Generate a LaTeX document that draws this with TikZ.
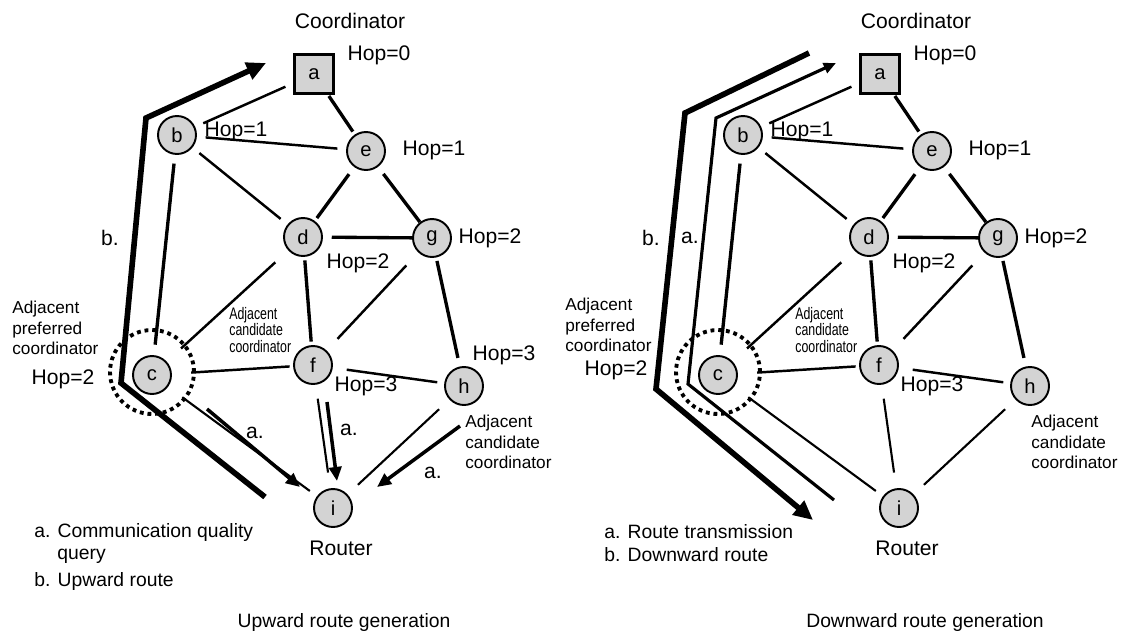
\documentclass[tikz,border=0pt]{standalone}
\usepackage{fontspec}
\setmainfont{Liberation Sans}
\newfontfamily\narrowsf[FakeStretch=0.74]{Liberation Sans}
\usetikzlibrary{arrows.meta,positioning,calc}
\definecolor{nodegray}{RGB}{211,211,211}

\tikzset{
  router/.style={circle, draw, line width=1.1pt, fill=nodegray, minimum size=0.76cm, inner sep=0pt, font=\fontsize{11.5}{13}\selectfont},
  coord/.style={rectangle, draw, line width=1.2pt, fill=nodegray, minimum size=0.78cm, inner sep=0pt, font=\fontsize{11.5}{13}\selectfont},
  ring/.style={circle, draw, line width=2.2pt, dash pattern=on 2.2pt off 2.2pt, minimum size=1.68cm, inner sep=0pt},
  link/.style={line width=1.4pt, shorten <=5pt, shorten >=5pt},
  boldlink/.style={link, line width=1.9pt},
  thinlink/.style={link, line width=1.2pt},
  lbl/.style={inner sep=0pt, font=\fontsize{12}{14}\selectfont},
  key/.style={inner sep=0pt, anchor=west, font=\fontsize{11}{13}\selectfont},
  note/.style={inner sep=0pt, align=left, anchor=west, font=\fontsize{9.8}{11.6}\selectfont},
  smallnote/.style={inner sep=0pt, align=left, anchor=west, font=\narrowsf\fontsize{9.5}{9.4}\selectfont},
  route/.style={line width=3.2pt, -{Triangle[length=11pt,width=10pt]}},
  tx/.style={line width=1.8pt, -{Triangle[length=7pt,width=6pt]}},
  query/.style={line width=2pt, -{Triangle[length=8pt,width=7pt]}},
}

\begin{document}
\begin{tikzpicture}[x=0.02cm, y=-0.02cm]
\useasboundingbox (0,0) rectangle (1125,632);

% same network in both panels
\foreach \p/\dx in {L/0, R/566}{
  \node[coord]  (\p a) at (\dx+314,74)  {a};
  \node[router] (\p b) at (\dx+177,135) {b};
  \node[router] (\p e) at (\dx+366,151) {e};
  \node[router] (\p d) at (\dx+303,237) {d};
  \node[router] (\p g) at (\dx+432,238) {g};
  \node[router] (\p c) at (\dx+152,375) {c};
  \node[router] (\p f) at (\dx+313,365) {f};
  \node[router] (\p h) at (\dx+464,386) {h};
  \node[router] (\p i) at (\dx+333,508) {i};
  \node[ring]   (\p r) at (\dx+152,372) {};

  % links
  \draw[link] (\p a) -- (\p b);
  \draw[boldlink, shorten <=1pt, shorten >=2pt] (\p a) -- (\p e);
  \draw[link] (\p b) -- (\p e);
  \draw[link] (\p b) -- (\p d);
  \draw[boldlink, shorten >=2pt] (\p e) -- (\p d);
  \draw[boldlink, shorten >=0pt] (\p e) -- (\p g);
  \draw[boldlink, shorten >=0pt] (\p d) -- (\p g);
  \draw[boldlink, shorten >=6pt] (\p b) -- (\p c);
  \draw[link, shorten <=10pt, shorten >=11pt] (\p d) -- (\p c);
  \draw[boldlink, shorten <=2pt, shorten >=2pt] (\p d) -- (\p f);
  \draw[link, shorten <=10pt, shorten >=9pt] (\p g) -- (\p f);
  \draw[boldlink, shorten <=2pt, shorten >=5pt] (\p g) -- (\p h);
  \draw[link, shorten <=11pt, shorten >=2pt] (\p c) -- (\p f);
  \draw[link, shorten <=8pt, shorten >=4pt] (\p f) -- (\p h);
  \draw[thinlink, shorten <=8pt, shorten >=9pt] (\p f) -- (\p i);
  \draw[thinlink, shorten <=8pt, shorten >=8pt] (\p h) -- (\p i);
  \draw[thinlink, shorten <=10pt, shorten >=5pt] (\p c) -- (\p i);

  % labels
  \node[lbl] (\p coordtxt) at (\dx+350,21) {Coordinator};
  \node[lbl] (\p hopa) at (\dx+379,55) {Hop=0};
  \node[lbl] (\p hopb) at (\dx+236,131) {Hop=1};
  \node[lbl] (\p hope) at (\dx+434,150) {Hop=1};
  \node[lbl] (\p hopg) at (\dx+490,238) {Hop=2};
  \node[lbl] (\p hopd) at (\dx+358,263) {Hop=2};
  \node[lbl] (\p hopf) at (\dx+366,386) {Hop=3};
  \node[smallnote] (\p candf) at (\dx+229,330) {Adjacent\\candidate\\coordinator};
  \node[note] (\p candh) at (\dx+465,442) {Adjacent\\candidate\\coordinator};
  \node[lbl] (\p routertxt) at (\dx+341,548) {Router};
}

% upward route generation
\node[note] (Lpref) at (12,328) {Adjacent\\preferred\\coordinator};
\node[lbl] (Lhopc) at (63,379) {Hop=2};
\node[lbl] (Lhoph) at (504,355) {Hop=3};
\coordinate (up0) at (265,497);
\coordinate (up1) at (121,383);
\coordinate (up2) at (146,118);
\coordinate (up3) at (266,63);
\draw[route] (up0) -- (up1) -- (up2) -- (up3);
\node[lbl] (Lb) at (110,238) {b.};
\coordinate (qc0) at (207,409);
\coordinate (qc1) at (300,487);
\coordinate (qf0) at (327,402);
\coordinate (qf1) at (337,481);
\coordinate (qh0) at (460,426);
\coordinate (qh1) at (377,487);
\draw[query] (qc0) -- (qc1);
\draw[query] (qf0) -- (qf1);
\draw[query] (qh0) -- (qh1);
\node[lbl] (Lqc) at (255,433) {a.};
\node[lbl] (Lqf) at (349,430) {a.};
\node[lbl] (Lqh) at (433,473) {a.};
\node[key] (Lkeya) at (34,532) {a. Communication quality};
\node[key] (Lkeyq) at (57,556) {query};
\node[key] (Lkeyb) at (34,581) {b. Upward route};
\node[lbl] (Ltitle) at (344,622) {\fontsize{11}{13}\selectfont Upward route generation};

% downward route generation
\node[note] (Rpref) at (565,325) {Adjacent\\preferred\\coordinator};
\node[lbl] (Rhopc) at (616,370) {Hop=2};
\coordinate (dn0) at (809,53);
\coordinate (dn1) at (685,113);
\coordinate (dn2) at (656,389);
\coordinate (dn3) at (813,520);
\draw[route] (dn0) -- (dn1) -- (dn2) -- (dn3);
\coordinate (tx0) at (834,500);
\coordinate (tx1) at (688,384);
\coordinate (tx2) at (716,118);
\coordinate (tx3) at (836,63);
\draw[tx] (tx0) -- (tx1) -- (tx2) -- (tx3);
\node[lbl] (Rb) at (651,238) {b.};
\node[lbl] (Ra) at (690,238) {a.};
\node[key] (Rkeya) at (604,532) {a. Route transmission};
\node[key] (Rkeyb) at (604,555) {b. Downward route};
\node[lbl] (Rtitle) at (925,622) {\fontsize{11}{13}\selectfont Downward route generation};
\end{tikzpicture}
\end{document}
